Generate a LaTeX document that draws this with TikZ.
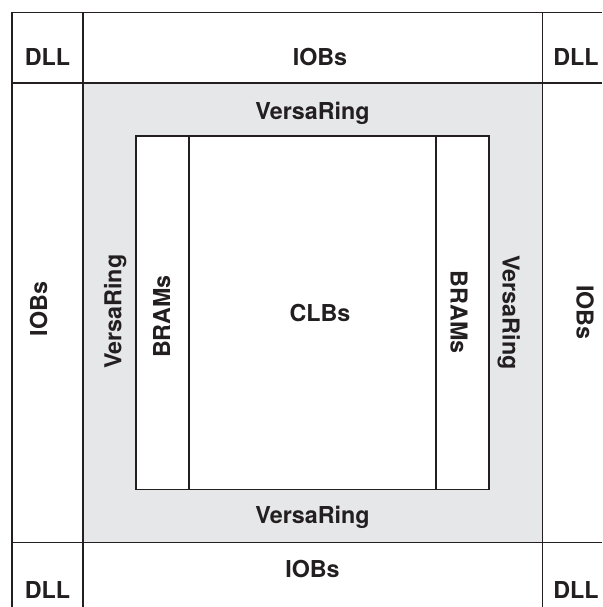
\documentclass[tikz,border=0pt]{standalone}
\usepackage{fontspec}
\setmainfont{TeX Gyre Heros}
\definecolor{ringgrey}{HTML}{E6E7E8}
\definecolor{linedark}{HTML}{231F20}
\begin{document}
\begin{tikzpicture}[x=1pt,y=-1pt,
  gridline/.style={draw=linedark,line width=1.4pt},
  lbl/.style={inner sep=0pt,text height=16.8pt,text depth=0pt,text=linedark,
    font=\fontsize{23.3}{27}\selectfont\bfseries},
  upward/.style={lbl,rotate=90},
  downward/.style={lbl,rotate=-90}]
\useasboundingbox (0,0) rectangle (602,607);
% grey VersaRing band
\fill[ringgrey] (83,83) rectangle (542.7,542.3);
\fill[white] (136,136) rectangle (489,489.3);
% grid lines
\draw[gridline] (602,12.5) -- (12,12.5) -- (12,607);
\draw[gridline] (83,12.5) -- (83,607);
\draw[gridline] (542.7,12.5) -- (542.7,607);
\draw[gridline] (12,83) -- (602,83);
\draw[gridline] (12,542.3) -- (602,542.3);
% inner CLB / BRAM block
\draw[gridline] (136,136) rectangle (489,489.3);
\draw[gridline] (189,136) -- (189,489.3);
\draw[gridline] (436,136) -- (436,489.3);
% labels
\node[lbl] (dlltl) at (47.5,57.5) {DLL};
\node[lbl] (iobt) at (320,57.5) {IOBs};
\node[lbl] (dlltr) at (576,57.5) {DLL};
\node[lbl] (vrt) at (312.5,111) {VersaRing};
\node[lbl] (clb) at (320,313) {CLBs};
\node[lbl] (vrb) at (312.5,515) {VersaRing};
\node[lbl] (iobb) at (312.5,569) {IOBs};
\node[lbl] (dllbl) at (47.5,590) {DLL};
\node[lbl] (dllbr) at (576,590) {DLL};
\node[upward] (iobl) at (38.6,309) {IOBs};
\node[upward] (vrl) at (113,311.7) {VersaRing};
\node[upward] (braml) at (161.7,316.5) {BRAMs};
\node[downward] (bramr) at (459,312) {BRAMs};
\node[downward] (vrr) at (511,312.5) {VersaRing};
\node[downward] (iobr) at (585,312.5) {IOBs};
\end{tikzpicture}
\end{document}
